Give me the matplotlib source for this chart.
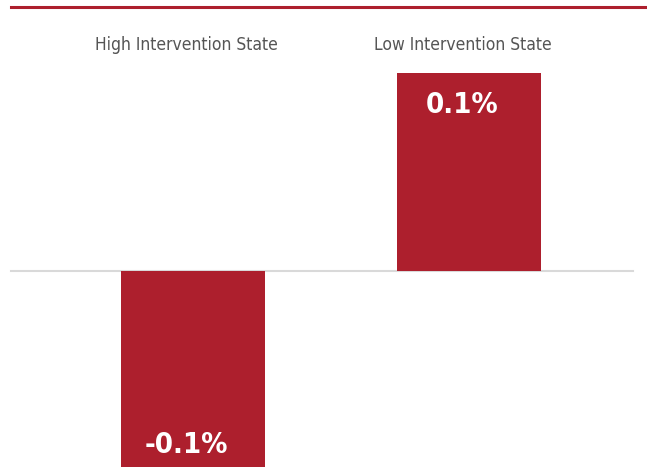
import matplotlib.pyplot as plt
from matplotlib.lines import Line2D

states = ["High Intervention State", "Low Intervention State"]
change = [-0.1, 0.1]
value_labels = ["-0.1%", "0.1%"]

RED = "#ad1f2d"
W, H = 647, 467

plt.rcParams['font.family'] = ['DejaVu Sans']
plt.rcParams['font.stretch'] = 'condensed'

fig = plt.figure(figsize=(W / 100, H / 100), dpi=100)
ax = fig.add_axes([0, 0, 1, 1])

x = list(range(len(states)))
ax.bar(x, change, width=0.522, color=RED, zorder=2)

# pixel-based limits: zero line at y=271, 0.1 reaches y=73, bars 276 px apart
px = 1980.0
ax.set_ylim((271 - H) / px, 271 / px)
ax.set_xlim(-193 / 276, (W - 193) / 276)

ax.plot([(11 - 193) / 276, (633 - 193) / 276], [0, 0], color="#d9d9d9",
        lw=1.5, zorder=1)

for xi, v, lab in zip(x, change, value_labels):
    y = v - 0.0162 if v > 0 else v + 0.0121
    ax.text(xi - 0.025, y, lab, ha="center", va="center", color="white",
            fontsize=21, fontweight="bold", zorder=3)

for xi, name in zip(x, states):
    ax.text(xi - 0.022, 0.137 - 45 / px, name, ha="center", va="center",
            color="#555555", fontsize=12.5)

ax.axis("off")

# red rule across the top
fig.add_artist(Line2D([11 / W, 1], [1 - 7 / H, 1 - 7 / H], color=RED, lw=2.2))

fig.savefig("out.png", dpi=100)
